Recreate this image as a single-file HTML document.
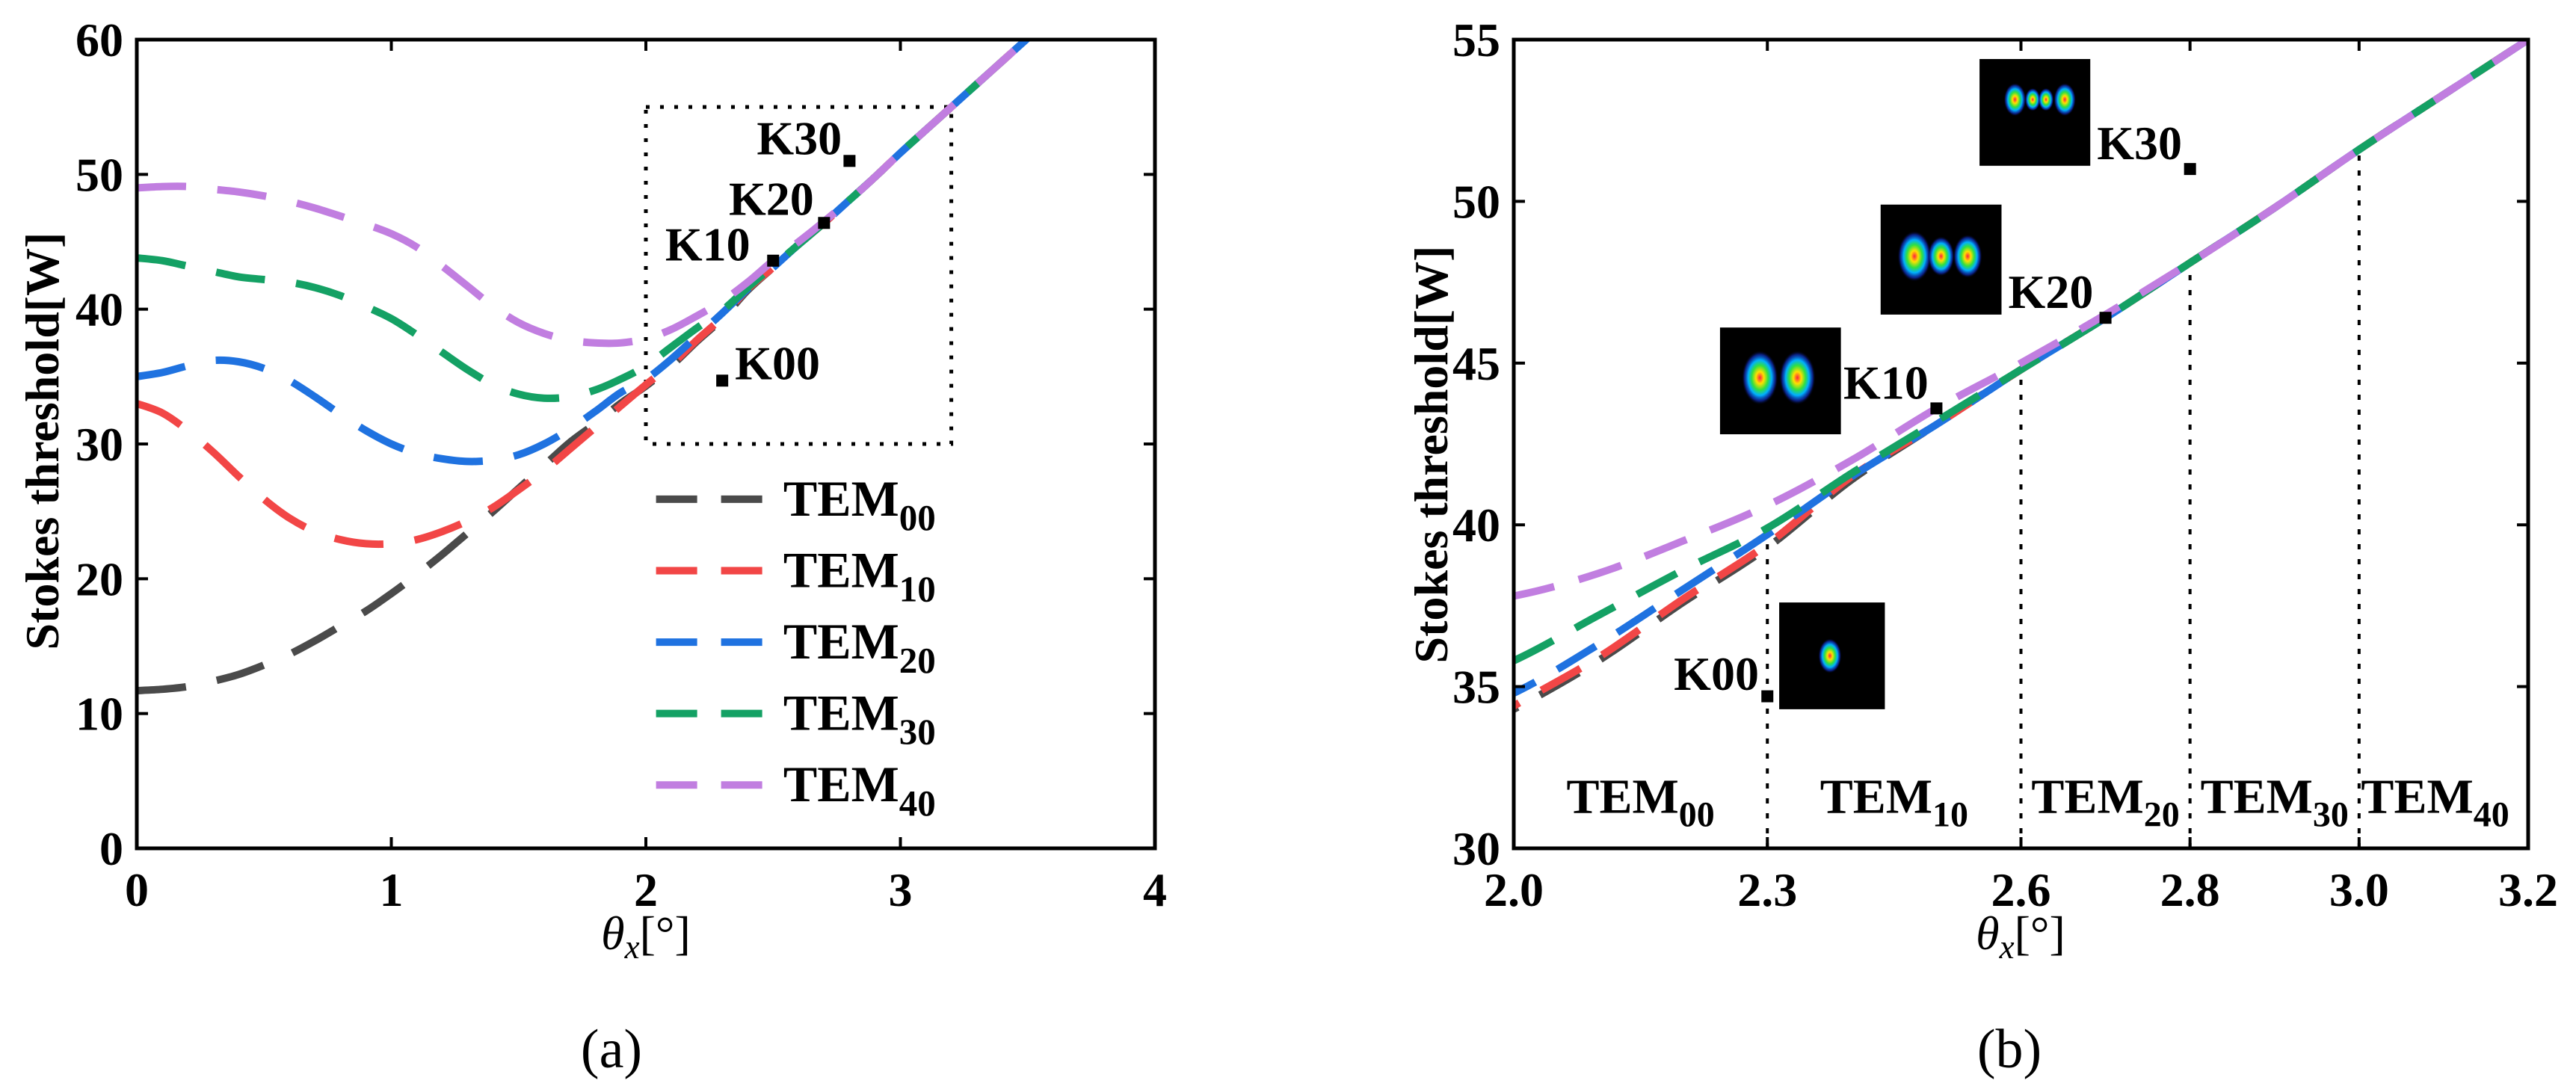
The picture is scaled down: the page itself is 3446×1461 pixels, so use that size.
<!DOCTYPE html>
<html><head><meta charset="utf-8"><style>
html,body{margin:0;padding:0;background:#fff;width:3446px;height:1461px;overflow:hidden;}
svg{display:block;}
text{font-family:"Liberation Serif","Times New Roman",serif;}
</style></head><body>
<svg id="fig" width="3446" height="1461" viewBox="0 0 3446 1461" xmlns="http://www.w3.org/2000/svg" font-family="Liberation Serif, serif" font-weight="bold">
<defs>
<clipPath id="clipA"><rect x="183" y="53" width="1362" height="1082"/></clipPath>
<clipPath id="clipB"><rect x="2025" y="53" width="1357" height="1082"/></clipPath>
<radialGradient id="beam">
<stop offset="0" stop-color="#ff2040"/><stop offset="0.22" stop-color="#ffe000"/><stop offset="0.45" stop-color="#30e040"/><stop offset="0.65" stop-color="#00b0ff"/><stop offset="0.85" stop-color="#1030c0" stop-opacity="0.7"/><stop offset="1" stop-color="#000010" stop-opacity="0"/>
</radialGradient>
</defs>
<g id="plotA"></g>
<g id="plotB"></g>
</svg>
<script>
// shared data: theta grid 0..3.5 step 0.1
const thetaX = [0,0.1,0.2,0.3,0.4,0.5,0.6,0.7,0.8,0.9,1.0,1.1,1.2,1.3,1.4,1.5,1.6,1.7,1.8,1.9,2.0,2.1,2.2,2.3,2.4,2.5,2.6,2.7,2.8,2.9,3.0,3.1,3.2,3.3,3.4,3.5];
const tem00 = [11.7,11.8,12.0,12.4,12.9,13.6,14.4,15.4,16.5,17.6,18.9,20.3,21.8,23.4,25.0,26.7,28.4,30.1,31.5,33.0,34.3,35.8,37.6,39.3,41.4,43.1,44.8,46.4,48.1,49.8,51.6,53.3,55.0,56.7,58.4,60.1];
const tem10 = [33.0,32.3,31.0,29.4,27.6,25.9,24.5,23.5,22.9,22.6,22.6,22.9,23.5,24.3,25.3,26.6,28.0,29.6,31.2,32.8,34.4,35.9,37.7,39.4,41.5,43.1,44.8,46.4,48.1,49.8,51.6,53.3,55.0,56.7,58.4,60.1];
const tem20 = [35.0,35.3,35.8,36.2,36.1,35.6,34.7,33.5,32.2,31.0,30.0,29.3,28.9,28.7,28.8,29.2,30.0,31.1,32.4,33.8,34.8,36.3,38.0,39.7,41.5,43.1,44.8,46.4,48.1,49.8,51.6,53.3,55.0,56.7,58.4,60.1];
const tem30 = [43.8,43.6,43.2,42.8,42.4,42.2,42.0,41.6,41.0,40.2,39.3,38.1,36.8,35.5,34.4,33.7,33.4,33.5,34.0,34.8,35.8,37.2,38.6,39.9,41.6,43.2,44.8,46.4,48.1,49.8,51.6,53.3,55.0,56.7,58.4,60.1];
const tem40 = [49.0,49.1,49.1,48.9,48.7,48.4,48.0,47.5,46.9,46.3,45.6,44.6,43.2,41.7,40.2,39.0,38.2,37.7,37.5,37.5,37.8,38.5,39.5,40.6,42.0,43.6,45.0,46.5,48.1,49.8,51.6,53.3,55.0,56.7,58.4,60.1];
const seriesNames = ["00","10","20","30","40"];
const seriesColors = ["#4a4a4a","#f24646","#1f72e0","#14a164","#c17ee0"];
const ticksAX = [0,1,2,3,4];
const ticksAY = [0,10,20,30,40,50,60];
const ticksBX = [2.0,2.3,2.6,2.8,3.0,3.2];
const tickLabelsBX = ["2.0","2.3","2.6","2.8","3.0","3.2"];
const ticksBY = [30,35,40,45,50,55];
const kNames = ["K00","K10","K20","K30"];
const kX = [2.3,2.5,2.7,2.8];
const kY = [34.7,43.6,46.4,51.0];
const boundaries = [2.3,2.6,2.8,3.0];
const regionCenters = [2.15,2.45,2.70,2.90,3.09];
const allSeries = [tem00,tem10,tem20,tem30,tem40];

const NS="http://www.w3.org/2000/svg";
function mk(tag,attrs,parent,txt){const e=document.createElementNS(NS,tag);for(const k in attrs)e.setAttribute(k,attrs[k]);if(txt!==undefined)e.textContent=txt;parent.appendChild(e);return e;}
function smooth(pts){let d="M"+pts[0][0].toFixed(1)+","+pts[0][1].toFixed(1);for(let i=0;i<pts.length-1;i++){const p0=pts[i-1]||pts[i],p1=pts[i],p2=pts[i+1],p3=pts[i+2]||p2;const c1=[p1[0]+(p2[0]-p0[0])/6,p1[1]+(p2[1]-p0[1])/6],c2=[p2[0]-(p3[0]-p1[0])/6,p2[1]-(p3[1]-p1[1])/6];d+="C"+c1[0].toFixed(1)+","+c1[1].toFixed(1)+" "+c2[0].toFixed(1)+","+c2[1].toFixed(1)+" "+p2[0].toFixed(1)+","+p2[1].toFixed(1);}return d;}
function temLabel(g,x,y,sub,size,anchor,name){const t=mk("text",{x:x,y:y,"font-size":size,"text-anchor":anchor||"start"},g);mk("tspan",{},t,"TEM");mk("tspan",{"font-size":Math.round(size*0.72),dy:Math.round(size*0.28)},t,sub);return t;}

function axes(g,L,R,T,B,sx,sy,xt,xl,yt,yl){
  const frame=mk("rect",{x:L,y:T,width:R-L,height:B-T,fill:"none",stroke:"#000","stroke-width":5},g);
  
  xt.forEach((v,i)=>{const x=sx(v);
    const t1=mk("line",{x1:x,x2:x,y1:B,y2:B-15,stroke:"#000","stroke-width":4},g);
    const t2=mk("line",{x1:x,x2:x,y1:T,y2:T+15,stroke:"#000","stroke-width":4},g);
    const lb=mk("text",{x:x,y:1212,"font-size":64,"text-anchor":"middle"},g,xl[i]);});
  yt.forEach((v,i)=>{const y=sy(v);
    const t1=mk("line",{x1:L,x2:L+15,y1:y,y2:y,stroke:"#000","stroke-width":4},g);
    const t2=mk("line",{x1:R,x2:R-15,y1:y,y2:y,stroke:"#000","stroke-width":4},g);
    const lb=mk("text",{x:L-18,y:y+22,"font-size":64,"text-anchor":"end"},g,yl[i]);});
}
function curves(g,sx,sy,clip,dash){
  const cg=mk("g",{"clip-path":"url(#"+clip+")"},g);
  allSeries.forEach((s,i)=>{const pts=thetaX.map((x,j)=>[sx(x),sy(s[j])]);
    const p=mk("path",{d:smooth(pts),fill:"none",stroke:seriesColors[i],"stroke-width":10,"stroke-dasharray":dash,"stroke-linecap":"butt"},cg);
    });
}
function marker(g,x,y,name){const r=mk("rect",{x:x-8,y:y-8,width:16,height:16,fill:"#000"},g);}

// ---------- Plot A ----------
(function(){
  const g=document.getElementById("plotA");
  const L=183,R=1545,T=53,B=1135;
  const sx=v=>L+(v-0)/(4-0)*(R-L), sy=v=>B-(v-0)/(60-0)*(B-T);
  const box=mk("rect",{x:sx(2),y:sy(55),width:sx(3.2)-sx(2),height:sy(30)-sy(55),fill:"none",stroke:"#000","stroke-width":5,"stroke-dasharray":"5,14"},g);
  
  curves(g,sx,sy,"clipA","66,42");
  axes(g,L,R,T,B,sx,sy,ticksAX,ticksAX.map(String),ticksAY,ticksAY.map(String));
  kNames.forEach((n,i)=>{marker(g,sx(kX[i]),sy(kY[i]),'marker-'+n.toLowerCase());});
  const kpos=[[2.35,34.8,"start"],[2.41,43.6,"end"],[2.66,47.0,"end"],[2.77,51.5,"end"]];
  kNames.forEach((n,i)=>{const t=mk("text",{x:sx(kpos[i][0]),y:sy(kpos[i][1]),"font-size":64,"text-anchor":kpos[i][2]},g,n);});
  seriesNames.forEach((n,i)=>{const y=sy(25.9-i*5.3);
    const ln=mk("line",{x1:sx(2.04),x2:sx(2.46),y1:y,y2:y,stroke:seriesColors[i],"stroke-width":10,"stroke-dasharray":"55,32"},g);
    temLabel(g,sx(2.54),y+22,n,68,"start",'legend-entry-tem'+n);});
  const yt=mk("text",{x:0,y:0,"font-size":64,"text-anchor":"middle",transform:"translate(78,590) rotate(-90)"},g,"Stokes threshold[W]");
  const xt=mk("text",{x:864,y:1270,"font-size":64,"text-anchor":"middle","font-weight":"normal"},g);
  mk("tspan",{"font-style":"italic"},xt,"θ");mk("tspan",{"font-style":"italic","font-size":45,dy:12},xt,"x");mk("tspan",{dy:-12},xt,"[°]");
  const cap=mk("text",{x:818,y:1428,"font-size":74,"text-anchor":"middle","font-weight":"normal"},g,"(a)");
})();

// ---------- Plot B ----------
(function(){
  const g=document.getElementById("plotB");
  const L=2025,R=3382,T=53,B=1135;
  const sx=v=>L+(v-2.0)/(3.2-2.0)*(R-L), sy=v=>B-(v-30)/(55-30)*(B-T);
  function interp(x,s){for(let j=0;j<thetaX.length-1;j++){if(x>=thetaX[j]&&x<=thetaX[j+1]){const f=(x-thetaX[j])/(thetaX[j+1]-thetaX[j]);return s[j]+f*(s[j+1]-s[j]);}}return s[s.length-1];}
  boundaries.forEach((b,i)=>{const y2=sy(interp(b,allSeries[i+1]||tem40));
    const l=mk("line",{x1:sx(b),x2:sx(b),y1:B,y2:y2,stroke:"#000","stroke-width":4,"stroke-dasharray":"7,13"},g);});
  curves(g,sx,sy,"clipB","60,34");
  axes(g,L,R,T,B,sx,sy,ticksBX,tickLabelsBX,ticksBY,ticksBY.map(String));
  seriesNames.forEach((n,i)=>{temLabel(g,sx(regionCenters[i]),sy(31.1),n,66,"middle",'region-label-tem'+n);});
  const imgs=[[2.314,2.439,37.6,34.3,[[0.48,0.5,0.11]]],[2.244,2.387,46.1,42.8,[[0.33,0.47,0.15],[0.64,0.47,0.15]]],[2.434,2.577,49.9,46.5,[[0.28,0.47,0.14],[0.5,0.47,0.11],[0.72,0.47,0.12]]],[2.551,2.682,54.4,51.1,[[0.32,0.38,0.1],[0.48,0.38,0.07],[0.6,0.38,0.07],[0.77,0.38,0.1]]]];
  imgs.forEach((im,k)=>{const x=sx(im[0]),w=sx(im[1])-x,y=sy(im[2]),h=sy(im[3])-y;
    const ig=mk("g",{},g);
    mk("rect",{x:x,y:y,width:w,height:h,fill:"#000"},ig);
    im[4].forEach(b=>{mk("ellipse",{cx:x+b[0]*w,cy:y+b[1]*h,rx:b[2]*w,ry:b[2]*w*1.5,fill:"url(#beam)"},ig);});});
  kNames.forEach((n,i)=>{marker(g,sx(kX[i]),sy(kY[i]),'marker-'+n.toLowerCase());});
  const kpos=[[2.29,34.9,"end"],[2.39,43.9,"start"],[2.585,46.7,"start"],[2.69,51.3,"start"]];
  kNames.forEach((n,i)=>{const t=mk("text",{x:sx(kpos[i][0]),y:sy(kpos[i][1]),"font-size":64,"text-anchor":kpos[i][2]},g,n);});
  const yt=mk("text",{x:0,y:0,"font-size":64,"text-anchor":"middle",transform:"translate(1936,608) rotate(-90)"},g,"Stokes threshold[W]");
  const xt=mk("text",{x:2703,y:1270,"font-size":64,"text-anchor":"middle","font-weight":"normal"},g);
  mk("tspan",{"font-style":"italic"},xt,"θ");mk("tspan",{"font-style":"italic","font-size":45,dy:12},xt,"x");mk("tspan",{dy:-12},xt,"[°]");
  const cap=mk("text",{x:2688,y:1428,"font-size":74,"text-anchor":"middle","font-weight":"normal"},g,"(b)");
})();
</script>
</body></html>
